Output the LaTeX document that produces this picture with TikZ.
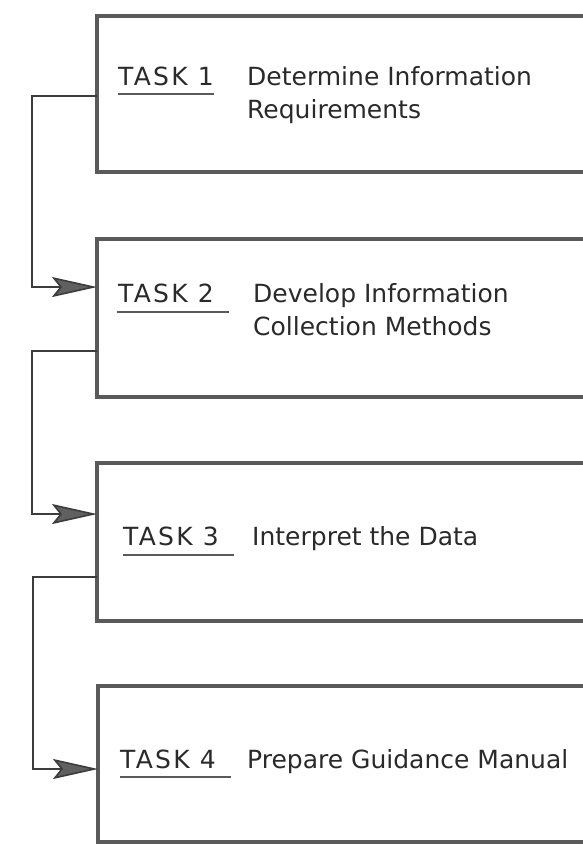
\documentclass[tikz,border=0pt]{standalone}
\usepackage{fontspec}
\setmainfont{DejaVu Sans}
\usetikzlibrary{arrows.meta,calc}
\definecolor{boxgrey}{HTML}{5A5A5A}
\definecolor{inkgrey}{HTML}{2A2A2A}
\definecolor{linkgrey}{HTML}{3C3C3C}
\definecolor{headgrey}{HTML}{606060}
\tikzset{
  taskbox/.style={draw=boxgrey, line width=4.2pt, rectangle, inner sep=0pt,
    outer sep=0pt, anchor=north west, minimum width=540pt},
  tasklabel/.style={inner sep=0pt, anchor=base west, text=inkgrey,
    font=\fontsize{25}{33}\selectfont},
  taskno/.style={tasklabel, font=\fontsize{25}{33}\selectfont\addfontfeature{LetterSpace=9}},
  taskline/.style={draw=boxgrey, line width=2.2pt},
  link/.style={draw=linkgrey, line width=1.6pt,
    -{Stealth[length=45pt, width=20pt, inset=8pt, fill=headgrey]}},
}
\begin{document}
\begin{tikzpicture}[x=1pt, y=-1pt]
  \useasboundingbox (0,0) rectangle (583,844);
  \clip (0,0) rectangle (583,844);
  \fill[white] (0,0) rectangle (583,844);

  % task boxes (they run off the right edge of the sheet)
  \node[taskbox, minimum height=156pt] (box1) at (97,16) {};
  \node[taskbox, minimum height=158pt] (box2) at (97,239) {};
  \node[taskbox, minimum height=158pt] (box3) at (97,463) {};
  \node[taskbox, minimum height=156pt] (box4) at (98,686) {};

  % task headings and titles
  \node[taskno] (t1) at (118,85) {TASK 1};
  \node[tasklabel] (d1a) at (247,85) {Determine Information};
  \node[tasklabel] (d1b) at (247,118) {Requirements};
  \draw[taskline] (t1.base west) ++(0,9) -- ++(96,0);

  \node[taskno] (t2) at (118,302) {TASK 2};
  \node[tasklabel] (d2a) at (253,302) {Develop Information};
  \node[tasklabel] (d2b) at (253,335) {Collection Methods};
  \draw[taskline] (t2.base west) ++(-1,10) -- ++(112,0);

  \node[taskno] (t3) at (123,545) {TASK 3};
  \node[tasklabel] (d3a) at (252,545) {Interpret the Data};
  \draw[taskline] (t3.base west) ++(0,10) -- ++(111,0);

  \node[taskno] (t4) at (120,768) {TASK 4};
  \node[tasklabel] (d4a) at (247,768) {Prepare Guidance Manual};
  \draw[taskline] (t4.base west) ++(0,9) -- ++(111,0);

  % connectors between consecutive tasks
  \draw[link] ($(box1.north west)!0.513!(box1.south west)$) -- ++(-65,0)
    |- ($(box2.north west)!0.304!(box2.south west)$);
  \draw[link] ($(box2.north west)!0.709!(box2.south west)$) -- ++(-65,0)
    |- ($(box3.north west)!0.323!(box3.south west)$);
  \draw[link] ($(box3.north west)!0.722!(box3.south west)$) -- ++(-64,0)
    |- ($(box4.north west)!0.532!(box4.south west)$);
\end{tikzpicture}
\end{document}
